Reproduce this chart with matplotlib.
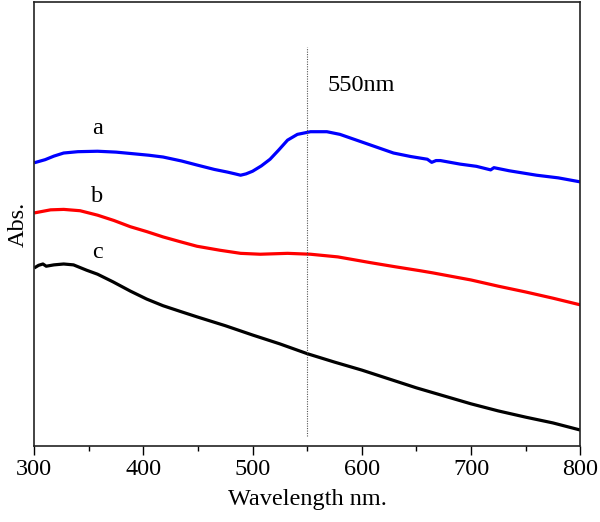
import matplotlib
matplotlib.use("Agg")
import matplotlib.pyplot as plt
from matplotlib.ticker import MultipleLocator

plt.rcParams['font.family'] = ['Liberation Serif', 'DejaVu Serif']

# Curve a (blue)
wl_a = [300, 310, 318, 327, 340, 358, 375, 388, 405, 418, 435, 449, 465, 477, 484,
        489, 494, 500, 508, 516, 524, 532, 541, 553, 568, 580, 594, 608, 629, 645,
        660, 664, 668, 672, 690, 705, 718, 721, 735, 760, 780, 800]
abs_a = [0.638, 0.645, 0.653, 0.660, 0.663, 0.664, 0.662, 0.659, 0.655, 0.651, 0.642,
         0.633, 0.623, 0.617, 0.613, 0.610, 0.613, 0.619, 0.631, 0.646, 0.667, 0.689,
         0.702, 0.708, 0.708, 0.702, 0.690, 0.678, 0.660, 0.652, 0.646, 0.639, 0.643,
         0.643, 0.635, 0.630, 0.622, 0.627, 0.620, 0.610, 0.604, 0.595]

# Curve b (red)
wl_b = [300, 315, 327, 342, 358, 373, 388, 403, 418, 434, 449, 470, 489, 507, 532,
        553, 578, 608, 630, 653, 665, 700, 725, 750, 775, 800]
abs_b = [0.525, 0.532, 0.533, 0.530, 0.520, 0.508, 0.494, 0.483, 0.471, 0.460, 0.450,
         0.441, 0.434, 0.432, 0.434, 0.432, 0.426, 0.413, 0.404, 0.395, 0.390, 0.374,
         0.360, 0.347, 0.333, 0.318]

# Curve c (black)
wl_c = [300, 304, 308, 311, 318, 327, 336, 348, 358, 372, 388, 403, 418, 434, 449,
        475, 500, 525, 550, 575, 600, 625, 650, 675, 700, 725, 750, 775, 800]
abs_c = [0.401, 0.407, 0.410, 0.405, 0.408, 0.410, 0.408, 0.396, 0.387, 0.370, 0.349,
         0.331, 0.316, 0.303, 0.291, 0.271, 0.250, 0.230, 0.208, 0.189, 0.171, 0.151,
         0.131, 0.113, 0.095, 0.079, 0.065, 0.052, 0.036]

series_labels = ["a", "b", "c"]
label_pos = [(358, 0.716), (358, 0.563), (358, 0.437)]
marker_wl = 550
marker_text = "550nm"
x_ticks = [300, 400, 500, 600, 700, 800]

fig = plt.figure(figsize=(6.0, 5.22), dpi=100)
ax = fig.add_axes([0.057, 0.1456, 0.910, 0.8504])

for wl, ab, col in [(wl_a, abs_a, (0, 0, 1)), (wl_b, abs_b, (1, 0, 0)), (wl_c, abs_c, 'black')]:
    ax.plot(wl, ab, color=col, lw=2.3, solid_joinstyle='round', solid_capstyle='butt')

ax.axvline(marker_wl, ymin=0.023, ymax=0.899, color='#555555', lw=0.8, ls=(0, (1, 1.2)))

fs = 17.5
for lab, (x, y) in zip(series_labels, label_pos):
    ax.text(x, y, lab, fontsize=fs, ha='center', va='center')
ax.text(569, 0.813, marker_text, fontsize=fs, ha='left', va='center')

ax.set_xlim(300, 800)
ax.set_ylim(0, 1)
ax.set_xticks(x_ticks)
ax.xaxis.set_minor_locator(MultipleLocator(50))
ax.set_yticks([])
ax.tick_params(axis='x', which='major', direction='out', length=6.5, width=1.0,
               labelsize=fs, pad=3)
ax.tick_params(axis='x', which='minor', direction='out', length=3.5, width=1.0)
ax.tick_params(axis='x', which='both', top=False)
for sp in ax.spines.values():
    sp.set_linewidth(1.2)
    sp.set_color('#222222')

ax.set_xlabel("Wavelength nm.", fontsize=fs, labelpad=6)
ax.set_ylabel("Abs.", fontsize=fs, labelpad=4)

fig.savefig("out.png", dpi=100)
